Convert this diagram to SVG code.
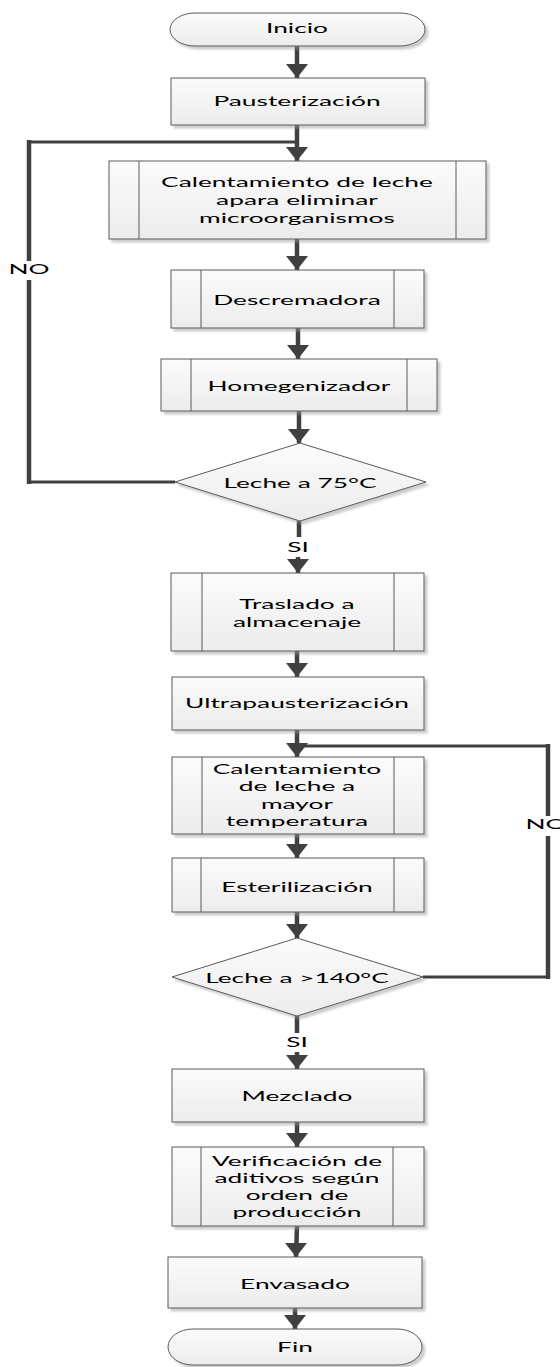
<svg xmlns="http://www.w3.org/2000/svg" width="560" height="1367" viewBox="0 0 560 1367">
  <style>
    .shape { fill: url(#boxFill); stroke: #5a5a5a; stroke-width: 1; filter: url(#shadow); }
    .div { stroke: #5a5a5a; stroke-width: 1; fill: none; }
    .t { font-family: Lato, "Open Sans", sans-serif; font-size: 14px; fill: #000; text-anchor: middle;
         transform-box: fill-box; transform-origin: center; transform: scaleX(1.88); }
    .v { stroke: #404040; stroke-width: 4.5; fill: none; }
    .h { stroke: #404040; stroke-width: 3; fill: none; }
    .arrow { marker-end: url(#head); }
  </style>
  <defs>
    <linearGradient id="boxFill" x1="0" y1="0" x2="0" y2="1">
      <stop offset="0" stop-color="#fbfbfb"/>
      <stop offset="1" stop-color="#ececec"/>
    </linearGradient>
    <filter id="shadow" x="-10%" y="-10%" width="125%" height="140%">
      <feDropShadow dx="3" dy="3" stdDeviation="1.2" flood-color="#9a9a9a" flood-opacity="0.5"/>
    </filter>
    <marker id="head" markerUnits="userSpaceOnUse" markerWidth="24" markerHeight="16" refX="11" refY="14" orient="auto-start-reverse" viewBox="0 0 22 14">
      <path d="M0 0 L22 0 L11 14 Z" fill="#404040" transform="rotate(-90 11 7) translate(-4 -4)"/>
    </marker>
    <marker id="down" markerUnits="userSpaceOnUse" markerWidth="22" markerHeight="14" refX="11" refY="14" viewBox="0 0 22 14" orient="0">
      <path d="M0 0 L22 0 L11 14 Z" fill="#404040"/>
    </marker>
  </defs>

  <!-- connectors -->
  <g id="connectors">
    <path class="v" marker-end="url(#down)" d="M297 46 L297 78"/>
    <path class="v" marker-end="url(#down)" d="M297 125 L297 161"/>
    <!-- NO loop back to heating -->
    <path class="h" d="M175 482 L29 482"/>
    <path class="v" d="M29 484 L29 280 M29 261 L29 140"/>
    <path class="h" d="M27.5 142 L297 142"/>
    <path class="v" marker-end="url(#down)" d="M297 239 L297 270"/>
    <path class="v" marker-end="url(#down)" d="M298 328 L298 359"/>
    <path class="v" marker-end="url(#down)" d="M299 411 L299 443"/>
    <path class="v" marker-end="url(#down)" d="M299 521 L299 537 M298 557 L298 573"/>
    <path class="v" marker-end="url(#down)" d="M297 651 L297 677"/>
    <path class="v" marker-end="url(#down)" d="M297 730 L297 757"/>
    <!-- NO loop back to second heating -->
    <path class="h" d="M423 977 L548 977"/>
    <path class="v" d="M548 979 L548 836 M548 816 L548 744"/>
    <path class="h" d="M549.5 746 L297 746"/>
    <path class="v" marker-end="url(#down)" d="M297 834 L297 858"/>
    <path class="v" marker-end="url(#down)" d="M297 912 L297 938"/>
    <path class="v" marker-end="url(#down)" d="M297 1016 L297 1033 M297 1052 L297 1069"/>
    <path class="v" marker-end="url(#down)" d="M297 1122 L297 1147"/>
    <path class="v" marker-end="url(#down)" d="M297 1226 L296 1257"/>
    <path class="v" marker-end="url(#down)" d="M295 1308 L295 1329"/>
    <text class="t" x="29" y="274">NO</text>
    <text class="t" x="298" y="552">SI</text>
    <text class="t" x="546" y="829">NO</text>
    <text class="t" x="297" y="1047">SI</text>
  </g>

  <g id="inicio">
    <rect class="shape" x="170" y="13" width="255" height="33" rx="25" ry="16.5"/>
    <text class="t" x="297" y="33">Inicio</text>
  </g>

  <g id="pausterizacion">
    <rect class="shape" x="171" y="78" width="254" height="47"/>
    <text class="t" x="297" y="106">Pausterización</text>
  </g>

  <g id="calentamiento1">
    <rect class="shape" x="109" y="161" width="377" height="78"/>
    <path class="div" d="M139 161 V239 M456 161 V239"/>
    <text class="t" y="187"><tspan x="297">Calentamiento de leche</tspan><tspan x="297" dy="18">apara eliminar</tspan><tspan x="297" dy="18">microorganismos</tspan></text>
  </g>

  <g id="descremadora">
    <rect class="shape" x="171" y="270" width="253" height="58"/>
    <path class="div" d="M201 270 V328 M394 270 V328"/>
    <text class="t" x="297" y="305">Descremadora</text>
  </g>

  <g id="homogenizador">
    <rect class="shape" x="161" y="359" width="276" height="52"/>
    <path class="div" d="M191 359 V411 M407 359 V411"/>
    <text class="t" x="299" y="391">Homegenizador</text>
  </g>

  <g id="decision75">
    <polygon class="shape" points="300,443 426,482 300,521 175,482"/>
    <text class="t" x="300" y="488">Leche a 75°C</text>
  </g>

  <g id="traslado">
    <rect class="shape" x="171" y="573" width="253" height="78"/>
    <path class="div" d="M202 573 V651 M394 573 V651"/>
    <text class="t" y="609"><tspan x="297">Traslado a</tspan><tspan x="297" dy="18">almacenaje</tspan></text>
  </g>

  <g id="ultrapausterizacion">
    <rect class="shape" x="172" y="677" width="252" height="53"/>
    <text class="t" x="297" y="708">Ultrapausterización</text>
  </g>

  <g id="calentamiento2">
    <rect class="shape" x="172" y="757" width="252" height="77"/>
    <path class="div" d="M202 757 V834 M394 757 V834"/>
    <text class="t" y="774"><tspan x="297">Calentamiento</tspan><tspan x="297" dy="17.5">de leche a</tspan><tspan x="297" dy="17.5">mayor</tspan><tspan x="297" dy="17.5">temperatura</tspan></text>
  </g>

  <g id="esterilizacion">
    <rect class="shape" x="172" y="858" width="252" height="54"/>
    <path class="div" d="M201 858 V912 M394 858 V912"/>
    <text class="t" x="297" y="892">Esterilización</text>
  </g>

  <g id="decision140">
    <polygon class="shape" points="297,938 423,977 297,1016 172,977"/>
    <text class="t" x="297" y="983">Leche a &gt;140°C</text>
  </g>

  <g id="mezclado">
    <rect class="shape" x="172" y="1069" width="252" height="53"/>
    <text class="t" x="297" y="1101">Mezclado</text>
  </g>

  <g id="verificacion">
    <rect class="shape" x="172" y="1147" width="252" height="79"/>
    <path class="div" d="M201 1147 V1226 M393 1147 V1226"/>
    <text class="t" y="1166"><tspan x="297">Verificación de</tspan><tspan x="297" dy="17">aditivos según</tspan><tspan x="297" dy="17">orden de</tspan><tspan x="297" dy="17">producción</tspan></text>
  </g>

  <g id="envasado">
    <rect class="shape" x="168" y="1257" width="254" height="51"/>
    <text class="t" x="295" y="1289">Envasado</text>
  </g>

  <g id="fin">
    <rect class="shape" x="168" y="1329" width="254" height="36" rx="25" ry="18"/>
    <text class="t" x="295" y="1352">Fin</text>
  </g>
</svg>
